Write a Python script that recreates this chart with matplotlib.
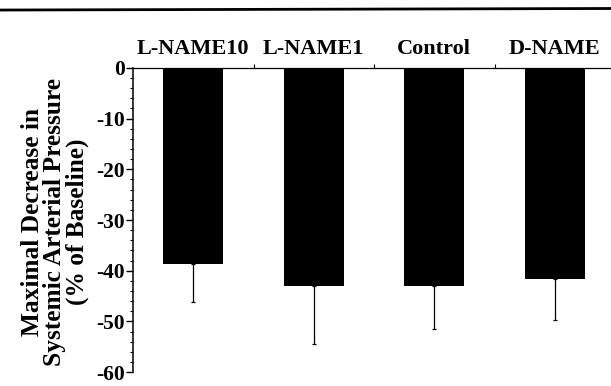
import matplotlib
matplotlib.use("Agg")
import matplotlib.pyplot as plt
from matplotlib.lines import Line2D
from matplotlib.ticker import MultipleLocator

plt.rcParams['font.family'] = ['Liberation Serif', 'DejaVu Serif']
plt.rcParams['font.weight'] = 'bold'
plt.rcParams['axes.unicode_minus'] = False

groups = ["L-NAME10", "L-NAME1", "Control", "D-NAME"]
means = [-38.7, -43.0, -43.0, -41.7]
errs = [7.5, 11.5, 8.5, 8.1]

fig = plt.figure(figsize=(6.11, 3.86), dpi=100)
ax = fig.add_axes([0.2177, 0.036, 0.785, 0.788])

x = list(range(len(groups)))
ax.bar(x, means, width=0.5, color='black')
ax.errorbar(x, means, yerr=[errs, [0] * len(errs)], fmt='none',
            ecolor='black', elinewidth=0.9, capsize=1.5, capthick=0.9)

ax.set_xlim(-0.5, 3.48)
ax.set_ylim(-60, 0)
ax.yaxis.set_major_locator(MultipleLocator(10))
ax.yaxis.set_minor_locator(MultipleLocator(2))
ax.tick_params(axis='y', which='major', direction='out', length=5, width=1,
               labelsize=15.5, pad=1)
ax.tick_params(axis='y', which='minor', direction='out', length=2.5, width=0.8)
for lbl in ax.get_yticklabels():
    lbl.set_fontweight('bold')

# category boundaries as ticks on the top axis, names above
ax.xaxis.tick_top()
ax.set_xticks([0.5, 1.5, 2.5])
ax.set_xticklabels([])
ax.tick_params(axis='x', direction='out', length=3, width=0.8)
for i, g in enumerate(groups):
    ax.text(i, 1.03, g, transform=ax.get_xaxis_transform(), ha='center',
            va='bottom', fontsize=16, fontweight='bold')

ax.spines['right'].set_visible(False)
ax.spines['bottom'].set_visible(False)
ax.spines['left'].set_linewidth(1.1)
ax.spines['top'].set_linewidth(0.9)

fig.text(55 / 611, 0.425,
         "Maximal Decrease in\nSystemic Arterial Pressure\n(% of Baseline)",
         rotation=90, ha='center', va='center', multialignment='center',
         fontsize=18.3, fontweight='bold', linespacing=0.95)

# page rule across the top
fig.add_artist(Line2D([0, 1], [0.974, 0.978], transform=fig.transFigure,
                      color='black', linewidth=2))

fig.savefig("out.png", dpi=100)
